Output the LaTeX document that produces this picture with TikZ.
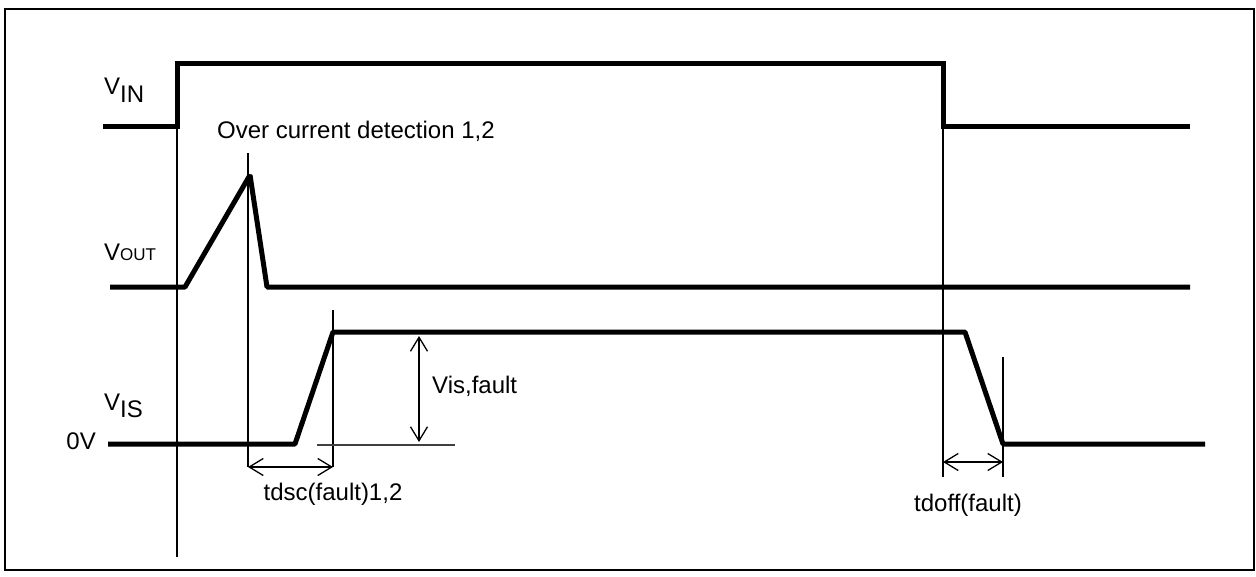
\documentclass[tikz,border=0pt]{standalone}
\usepackage{fontspec}
\setmainfont{Liberation Sans}
\usetikzlibrary{arrows.meta}
\begin{document}
\begin{tikzpicture}[x=1pt,y=-1pt,
  sig/.style={line width=5pt, line join=miter},
  sigb/.style={line width=5pt, line join=bevel},
  guide/.style={line width=1.5pt},
  refline/.style={line width=1.3pt, black!75},
  dim/.style={line width=1.3pt, {Straight Barb[length=14pt,width=17pt,line width=1.3pt]}-{Straight Barb[length=14pt,width=17pt,line width=1.3pt]}},
  lbl/.style={inner sep=0pt, anchor=base west, font=\fontsize{24}{28}\selectfont},
  sym/.style={inner sep=0pt, anchor=base west, font=\fontsize{24}{28}\selectfont},
]
\useasboundingbox (0,0) rectangle (1256,576);
\draw[line width=2pt] (5,9) rectangle (1254,570);

% V_IN
\coordinate (vin0) at (103,126);
\coordinate (vinR) at (177,126);
\coordinate (vinRt) at (177,63);
\coordinate (vinF) at (943,63);
\coordinate (vinFb) at (943,126);
\coordinate (vin1) at (1190,126);
\draw[sig] (vin0) -- (vinR) -- (vinRt) -- (vinF) -- (vinFb) -- (vin1);

% V_OUT
\coordinate (vo0) at (110,287);
\coordinate (vo1) at (185,287);
\coordinate (vopk) at (250,175);
\coordinate (vo2) at (267,287);
\coordinate (vo3) at (1190,287);
\draw[sigb] (vo0) -- (vo1) -- (vopk) -- (vo2) -- (vo3);

% V_IS
\coordinate (vs0) at (108,444);
\coordinate (vs1) at (295,444);
\coordinate (vs2) at (333,332);
\coordinate (vs3) at (965,332);
\coordinate (vs4) at (1003,444);
\coordinate (vs5) at (1205,444);
\draw[sigb] (vs0) -- (vs1) -- (vs2) -- (vs3) -- (vs4) -- (vs5);

% guide lines
\coordinate (g1b) at (177,557);
\coordinate (g2t) at (248,153);
\coordinate (g2b) at (248,467);
\coordinate (g3t) at (333,310);
\coordinate (g3b) at (333,467);
\coordinate (g4b) at (943,477);
\coordinate (g5t) at (1003,357);
\coordinate (g5b) at (1003,477);
\draw[guide] (vinR) -- (g1b);
\draw[guide] (g2t) -- (g2b);
\draw[guide] (g3t) -- (g3b);
\draw[guide] (vinFb) -- (g4b);
\draw[guide] (g5t) -- (g5b);
\coordinate (r0) at (317,445);
\coordinate (r1) at (455,445);
\draw[refline] (r0) -- (r1);

% dimension arrows
\coordinate (d1a) at (248,467);
\coordinate (d1b) at (333,467);
\draw[dim] (d1a) -- (d1b);
\coordinate (d2a) at (943,462);
\coordinate (d2b) at (1003,462);
\draw[dim] (d2a) -- (d2b);
\coordinate (d3a) at (419,336);
\coordinate (d3b) at (419,442);
\draw[dim] (d3a) -- (d3b);

% labels
\node[lbl] (oc) at (217,138) {Over current detection 1,2};
\node[lbl, anchor=base] (tdsc) at (333,500) {tdsc(fault)1,2};
\node[lbl, anchor=base] (tdoff) at (968,511) {tdoff(fault)};
\node[lbl] (visf) at (432,393) {Vis,fault};
\node[sym] (lvin) at (104,94) {V\raisebox{-8pt}{IN}};
\node[sym] (lvout) at (104,260) {V{\fontsize{17}{20}\selectfont OUT}};
\node[sym] (lvis) at (104,410) {V\raisebox{-7pt}{IS}};
\node[sym, anchor=base east] (l0v) at (96,449) {0V};
\end{tikzpicture}
\end{document}
